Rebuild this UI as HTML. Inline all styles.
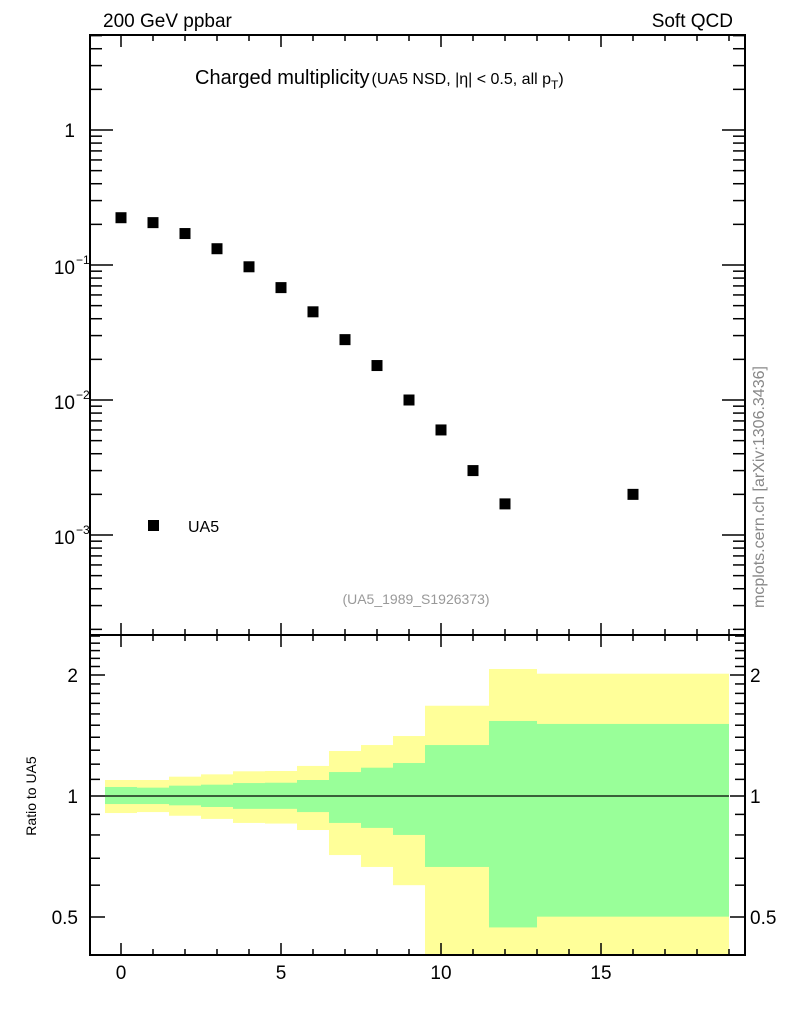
<!DOCTYPE html>
<html><head><meta charset="utf-8"><style>
body{margin:0;background:#fff;}
svg text{font-family:"Liberation Sans",sans-serif;}
</style></head><body>
<svg id="c" width="786" height="1024" xmlns="http://www.w3.org/2000/svg">
<g id="bands"></g>
<g id="axes"></g>
<g id="pts"></g>
<text x="103" y="27" font-size="19">200 GeV ppbar</text>
<text x="733" y="27" font-size="19" text-anchor="end">Soft QCD</text>
<text x="195" y="84" font-size="20">Charged multiplicity<tspan font-size="16" dx="2">(UA5 NSD, |η| &lt; 0.5, all p</tspan><tspan font-size="12" dy="5">T</tspan><tspan font-size="16" dy="-5">)</tspan></text>
<text x="416" y="604" font-size="14" fill="#999" text-anchor="middle">(UA5_1989_S1926373)</text>
<text transform="translate(764,487) rotate(-90)" font-size="16" fill="#888" text-anchor="middle">mcplots.cern.ch [arXiv:1306.3436]</text>
<text transform="translate(36,796) rotate(-90)" font-size="14" text-anchor="middle">Ratio to UA5</text>
<rect x="148" y="520" width="11" height="11" fill="#000"/>
<text x="188" y="532" font-size="16">UA5</text>
</svg>
<script>
const xs=[0,1,2,3,4,5,6,7,8,9,10,11,12,16];
const ys=[0.224,0.206,0.171,0.132,0.097,0.068,0.045,0.028,0.018,0.010,0.006,0.003,0.0017,0.002];
const binEdges=[-0.5,0.5,1.5,2.5,3.5,4.5,5.5,6.5,7.5,8.5,9.5,11.5,13,19];
const yelHi=[1.096,1.096,1.117,1.132,1.152,1.154,1.188,1.294,1.339,1.41,1.677,2.07,2.015];
const greHi=[1.053,1.049,1.061,1.067,1.077,1.079,1.096,1.147,1.176,1.208,1.339,1.537,1.511];
const greLo=[0.955,0.955,0.948,0.939,0.929,0.929,0.912,0.857,0.833,0.8,0.666,0.471,0.501];
const yelLo=[0.907,0.912,0.893,0.877,0.857,0.854,0.823,0.713,0.666,0.600,0.3,0.3,0.3];
const NS="http://www.w3.org/2000/svg";
const L=90,R=745,T=35,M=635,B=955;
const X=v=>121+v*32;
const Y=v=>130-Math.log10(v)*135;
const YR=v=>Math.min(B,Math.max(M,796-Math.log2(v)*121));
function mk(tag,attrs,parent){const e=document.createElementNS(NS,tag);for(const k in attrs)e.setAttribute(k,attrs[k]);document.getElementById(parent).appendChild(e);return e;}
for(let i=0;i<yelHi.length;i++){
 const x0=X(binEdges[i]),x1=X(binEdges[i+1]);
 let r=mk('rect',{x:x0,y:YR(yelHi[i]),width:x1-x0,height:YR(yelLo[i])-YR(yelHi[i]),fill:'#ffff99'},'bands');
 
 
 let g=mk('rect',{x:x0,y:YR(greHi[i]),width:x1-x0,height:YR(greLo[i])-YR(greHi[i]),fill:'#99ff99'},'bands');
 
 
}
for(let i=0;i<xs.length;i++){
 const p=mk('rect',{x:X(xs[i])-5.5,y:Y(ys[i])-5.5,width:11,height:11,fill:'#000'},'pts');
 
 
}
const ln=(x1,y1,x2,y2,w)=>mk('line',{x1,y1,x2,y2,stroke:'#000','stroke-width':w||1},'axes');
const tx=(x,y,s,anchor,size)=>{const t=mk('text',{x,y,'font-size':size||19,'text-anchor':anchor||'middle'},'axes');t.textContent=s;return t;};
mk('rect',{x:L,y:T,width:R-L,height:B-T,fill:'none',stroke:'#000','stroke-width':2},'axes');
ln(L,M,R,M,2);
ln(X(-0.5),796,X(19),796,1.2);
for(let v=0;v<=19;v++){
 const maj=v%5==0, len=maj?12:6;
 [T,M,B].forEach(y=>{
  if(y==T){ln(X(v),T,X(v),T+len,1.5);}
  else{ln(X(v),y,X(v),y-len,1.5); if(y==M) ln(X(v),y,X(v),y+len,1.5);}
 });
 if(maj) tx(X(v),979,String(v));
}
for(let d=-4;d<=0;d++){
 for(let k=1;k<10;k++){
  const v=k*Math.pow(10,d),y=Y(v);
  if(y<T||y>M) continue;
  const len=k==1?23:12;
  ln(L,y,L+len,y,1.5);ln(R,y,R-len,y,1.5);
 }
}
const yl=[[1,"1"],[0.1,"-1"],[0.01,"-2"],[0.001,"-3"]];
yl.forEach(([v,s])=>{
 if(s=="1"){tx(75,Y(v)+7,"1","end");}
 else{const t=tx(75,Y(v)+9,"10","end");const e=mk('text',{x:76,y:Y(v)-1,'font-size':12,'text-anchor':'start'},'axes');e.textContent="−"+s.slice(1);}
});
const rt=[0.5,0.6,0.7,0.8,0.9,1,1.1,1.2,1.3,1.4,1.5,1.6,1.7,1.8,1.9,2,2.1,2.2,2.3,2.4,2.5];
rt.forEach(v=>{const y=YR(v);if(y<=M+1||y>=B)return;const maj=(v==0.5||v==1||v==2);const len=maj?15:10;ln(L,y,L+len,y,1.5);ln(R,y,R-len,y,1.5);});
[[2,"2"],[1,"1"],[0.5,"0.5"]].forEach(([v,s])=>{tx(78,YR(v)+7,s,"end");tx(750,YR(v)+7,s,"start");});
</script>
</body></html>
